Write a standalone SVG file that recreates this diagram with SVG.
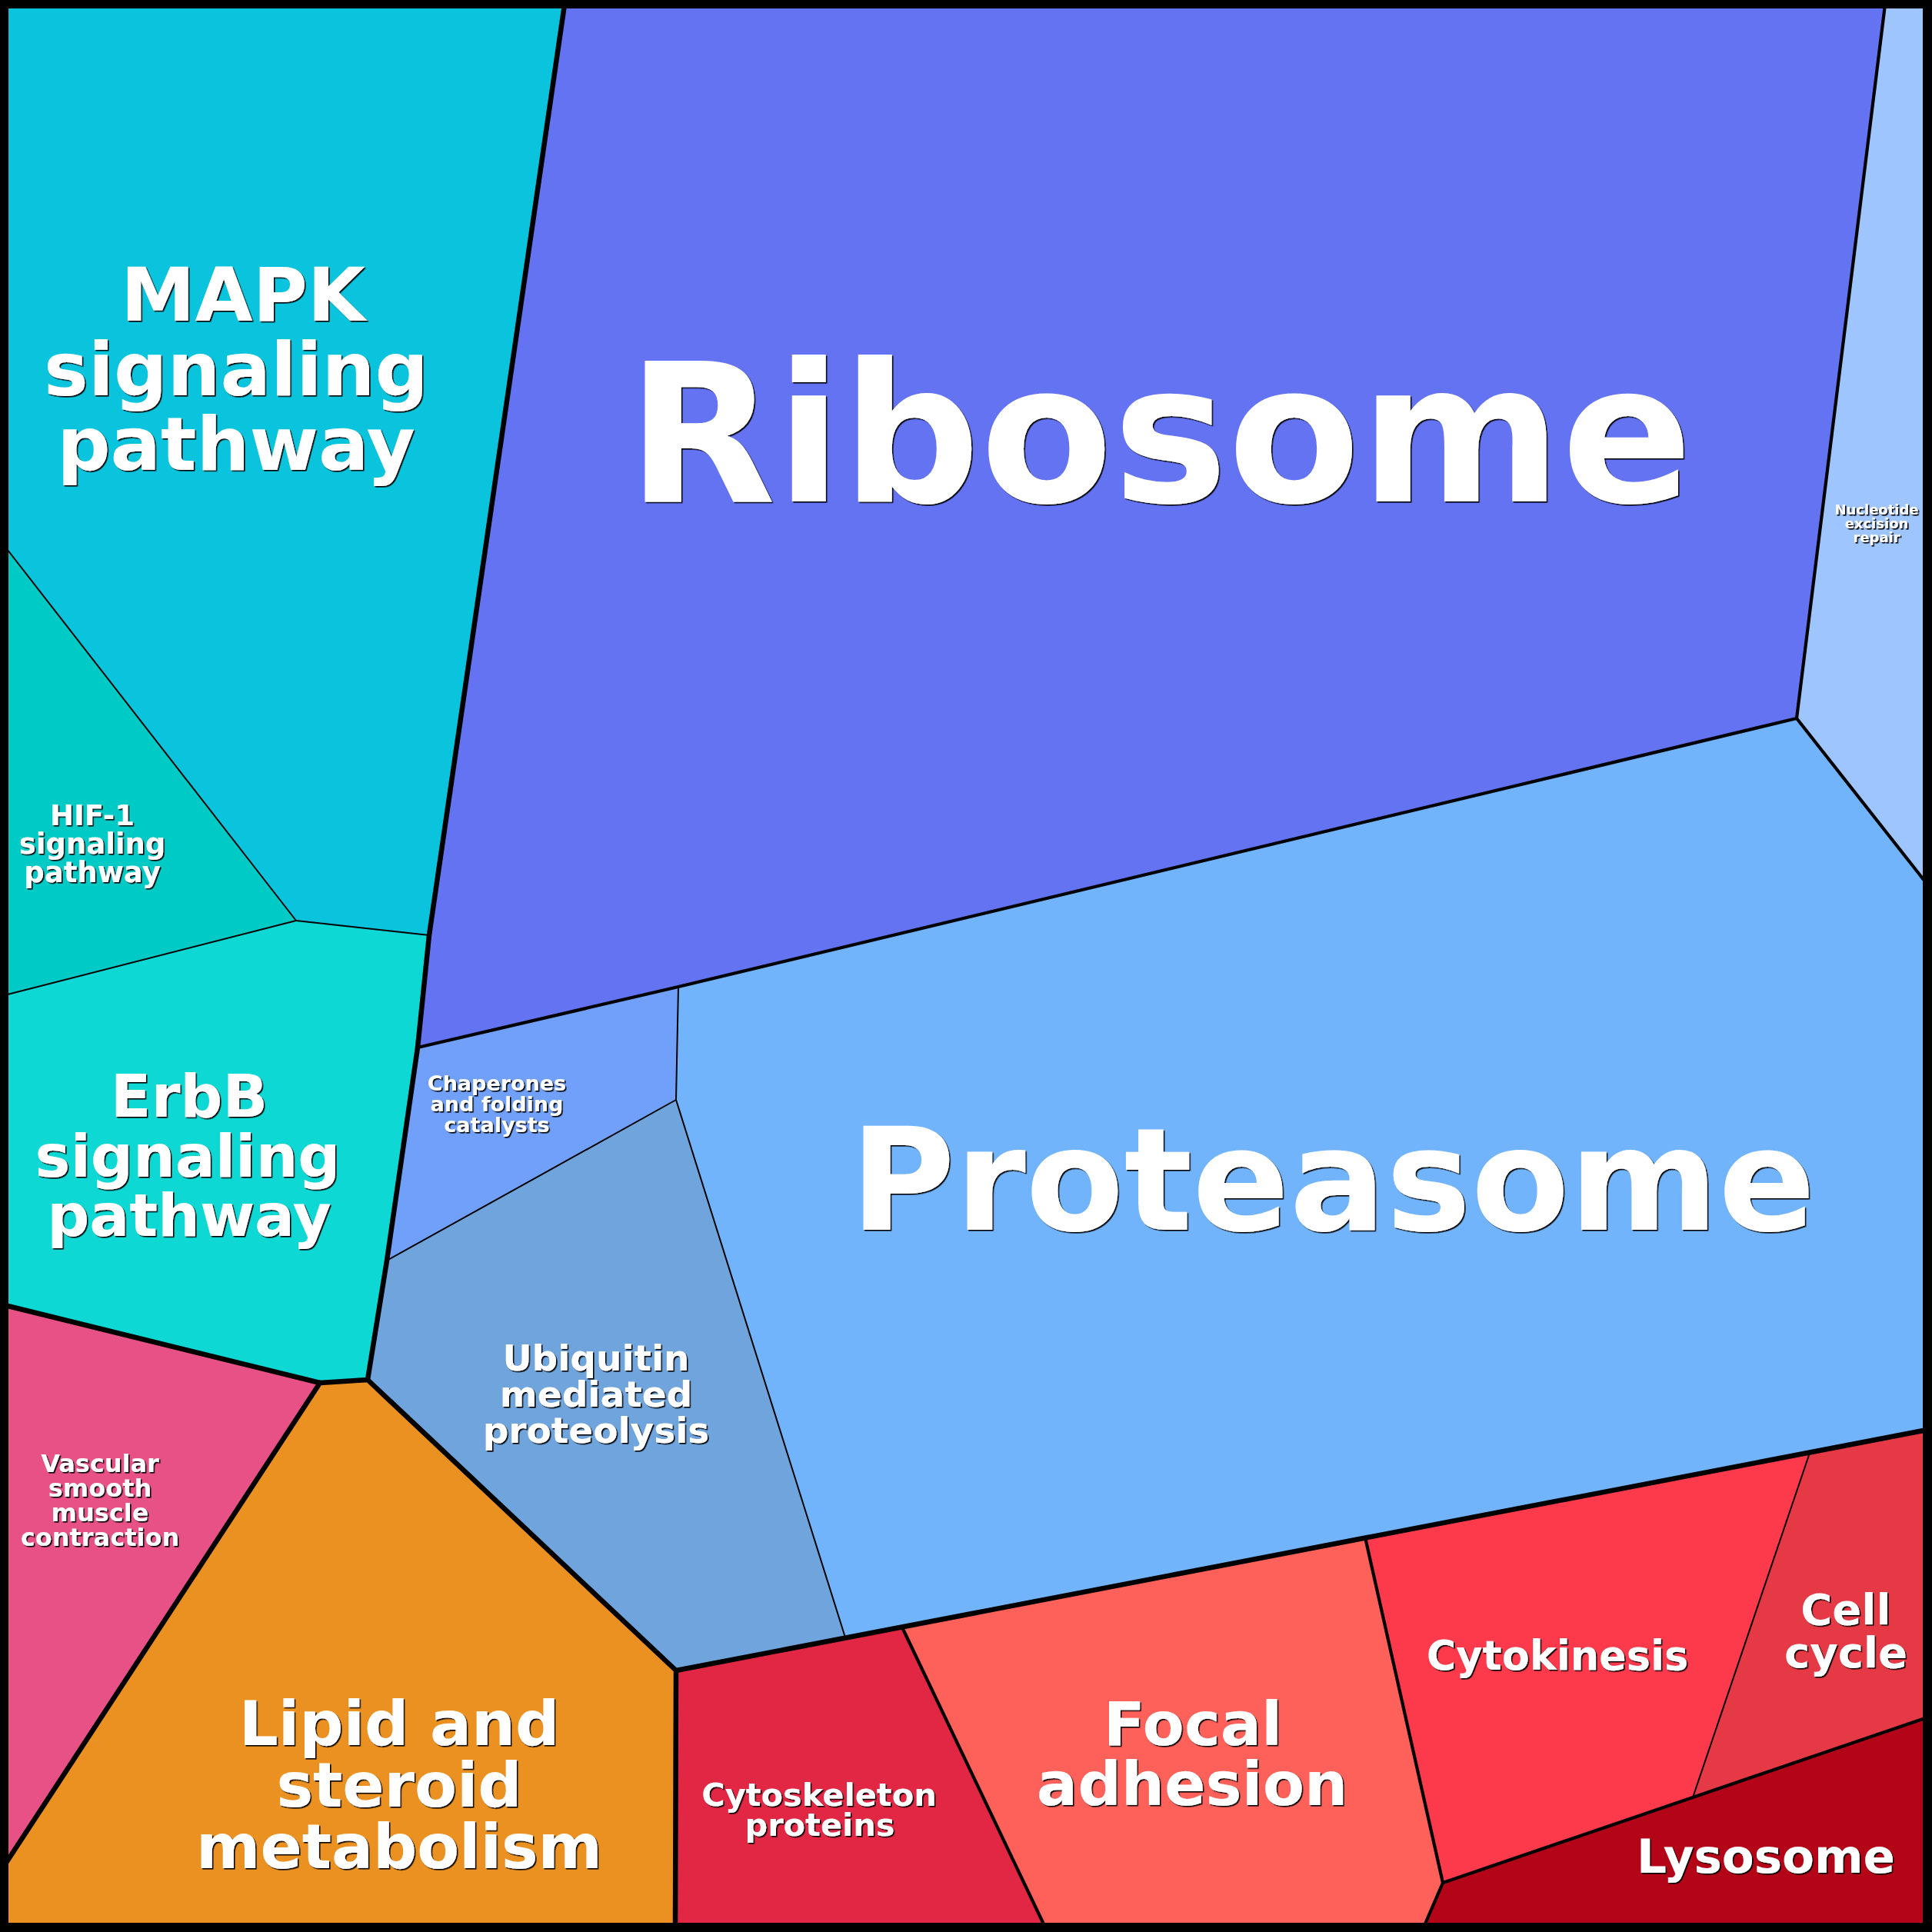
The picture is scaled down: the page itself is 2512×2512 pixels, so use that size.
<svg xmlns="http://www.w3.org/2000/svg" width="2512" height="2512" viewBox="0 0 2512 2512">
<defs>
<filter id="sh" x="-5%" y="-5%" width="110%" height="110%">
<feDropShadow dx="1.6" dy="1.6" stdDeviation="0.4" flood-color="#000" flood-opacity="1"/>
</filter>
<style>
.cell{stroke:none}
.lbl{font-family:"DejaVu Sans","Liberation Sans",sans-serif;font-weight:bold;fill:#fff;text-anchor:middle;filter:url(#sh)}
.b{fill:none;stroke:#000;stroke-linejoin:round;stroke-linecap:round}
.thick{stroke-width:6.5}
.med{stroke-width:4.2}
.thin{stroke-width:2}
</style>
</defs>
<g id="cells">
<g id="mapk"><polygon class="cell" fill="#0AC3DC" points="6,6 734,6 558,1216 385,1197 6,710"/>
<text class="lbl" font-size="97"><tspan x="316" y="417">MAPK</tspan><tspan x="307" y="514">signaling</tspan><tspan x="307" y="611">pathway</tspan></text></g>
<g id="hif1"><polygon class="cell" fill="#00CAC6" points="6,710 385,1197 6,1294"/>
<text class="lbl" font-size="37"><tspan x="120" y="1073">HIF-1</tspan><tspan x="120" y="1110">signaling</tspan><tspan x="120" y="1147">pathway</tspan></text></g>
<g id="erbb"><polygon class="cell" fill="#0DD8D4" points="6,1294 385,1197 558,1216 543,1362 503,1639 478,1794 416,1798 6,1697"/>
<text class="lbl" font-size="77"><tspan x="246" y="1452">ErbB</tspan><tspan x="244" y="1530">signaling</tspan><tspan x="246" y="1607">pathway</tspan></text></g>
<g id="ribosome"><polygon class="cell" fill="#6373F2" points="734,6 2451,6 2336,934 882,1283 543,1362 558,1216"/>
<text class="lbl" font-size="251" x="1508" y="652">Ribosome</text></g>
<g id="nucleotide"><polygon class="cell" fill="#9EC5FE" points="2451,6 2506,6 2506,1150 2336,934"/>
<text class="lbl" font-size="18"><tspan x="2440" y="669">Nucleotide</tspan><tspan x="2440" y="687">excision</tspan><tspan x="2440" y="705">repair</tspan></text></g>
<g id="proteasome"><polygon class="cell" fill="#72B4FC" points="882,1283 2336,934 2506,1150 2506,1859 2353,1889 1775,1999 1174,2118 1099,2129 879,1430"/>
<text class="lbl" font-size="186" x="1733" y="1599">Proteasome</text></g>
<g id="chaperones"><polygon class="cell" fill="#70A0FA" points="543,1362 882,1283 879,1430 503,1639"/>
<text class="lbl" font-size="27"><tspan x="646" y="1418">Chaperones</tspan><tspan x="646" y="1445">and folding</tspan><tspan x="646" y="1472">catalysts</tspan></text></g>
<g id="ubiquitin"><polygon class="cell" fill="#70A4DC" points="503,1639 879,1430 1099,2129 879,2172 478,1794"/>
<text class="lbl" font-size="47"><tspan x="775" y="1782">Ubiquitin</tspan><tspan x="775" y="1829">mediated</tspan><tspan x="775" y="1876">proteolysis</tspan></text></g>
<g id="vascular"><polygon class="cell" fill="#E85186" points="6,1697 416,1798 6,2425"/>
<text class="lbl" font-size="32"><tspan x="130" y="1914">Vascular</tspan><tspan x="130" y="1946">smooth</tspan><tspan x="130" y="1978">muscle</tspan><tspan x="130" y="2010">contraction</tspan></text></g>
<g id="lipid"><polygon class="cell" fill="#EB9121" points="416,1798 478,1794 879,2172 878,2506 6,2506 6,2425"/>
<text class="lbl" font-size="80"><tspan x="519" y="2269">Lipid and</tspan><tspan x="519" y="2349">steroid</tspan><tspan x="519" y="2429">metabolism</tspan></text></g>
<g id="cytoskeleton"><polygon class="cell" fill="#E12744" points="879,2172 1099,2129 1174,2118 1359,2506 878,2506"/>
<text class="lbl" font-size="41.5"><tspan x="1065" y="2348">Cytoskeleton</tspan><tspan x="1066" y="2387">proteins</tspan></text></g>
<g id="focal"><polygon class="cell" fill="#FE615A" points="1174,2118 1775,1999 1876,2448 1851,2506 1359,2506"/>
<text class="lbl" font-size="79"><tspan x="1551" y="2269">Focal</tspan><tspan x="1550" y="2347">adhesion</tspan></text></g>
<g id="cytokinesis"><polygon class="cell" fill="#FC3A4C" points="1775,1999 2353,1889 2201,2337 1876,2448"/>
<text class="lbl" font-size="52.5" x="2025" y="2171">Cytokinesis</text></g>
<g id="cellcycle"><polygon class="cell" fill="#E53945" points="2353,1889 2506,1859 2506,2233 2201,2337"/>
<text class="lbl" font-size="56"><tspan x="2400" y="2112">Cell</tspan><tspan x="2400" y="2168">cycle</tspan></text></g>
<g id="lysosome"><polygon class="cell" fill="#B40518" points="2201,2337 2506,2233 2506,2506 1851,2506 1876,2448"/>
<text class="lbl" font-size="61" x="2296" y="2435">Lysosome</text></g>
</g>
<g id="connectors">
<polyline class="b thin" points="6,710 385,1197 558,1216"/>
<polyline class="b thin" points="385,1197 6,1294"/>
<polyline class="b thin" points="882,1283 879,1430 1099,2129"/>
<polyline class="b thin" points="503,1639 879,1430"/>
<polyline class="b thin" points="2353,1889 2201,2337"/>
<polyline class="b med" points="543,1362 882,1283 2336,934 2506,1150"/>
<polyline class="b med" points="2451,6 2336,934"/>
<polyline class="b med" points="1174,2118 1359,2506"/>
<polyline class="b med" points="1775,1999 1876,2448 1851,2506"/>
<polyline class="b med" points="1876,2448 2201,2337 2506,2233"/>
<polyline class="b thick" points="734,6 558,1216 543,1362 503,1639 478,1794"/>
<polyline class="b thick" points="6,1697 416,1798 478,1794 879,2172 878,2506"/>
<polyline class="b thick" points="416,1798 6,2425"/>
<polyline class="b thick" points="879,2172 2506,1859"/>
<rect x="5" y="5" width="2501" height="2501" fill="none" stroke="#000" stroke-width="12"/>
</g>
</svg>
